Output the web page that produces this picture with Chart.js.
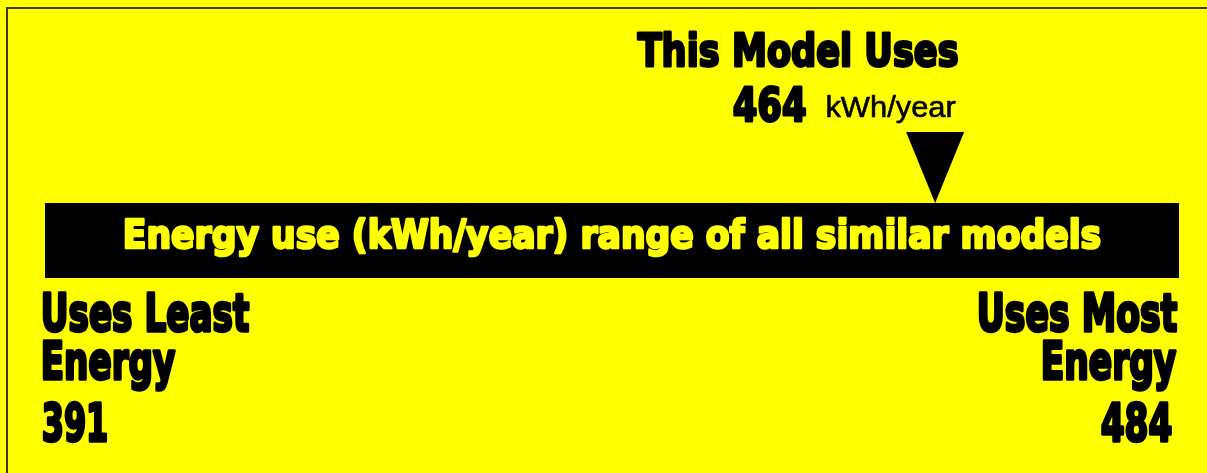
<!DOCTYPE html>
<html>
<head>
<meta charset="utf-8">
<script src="https://cdn.jsdelivr.net/npm/chart.js@4"></script>
<style>
html,body{margin:0;padding:0;background:#ffff00;overflow:hidden}
canvas{display:block}
</style>
</head>
<body>
<canvas id="label" width="1207" height="473"></canvas>
<script>
const categories=["Energy use (kWh/year) range of all similar models"];
const leastEnergy=[391];
const mostEnergy=[484];
const thisModel=[464];
const unitText="kWh/year";
const headline="This Model Uses";
const leastLabel=["Uses Least","Energy"];
const mostLabel=["Uses Most","Energy"];

const heavy='"DejaVu Sans", "Liberation Sans", sans-serif';
const plain='"Liberation Sans", Arial, sans-serif';

// draws text squeezed to a given width (the label font is a condensed black face),
// with an outline in the same colour to make it heavier
function put(c,text,x,y,size,weight,family,width,align,color,thick){
  c.save();
  c.font=weight+' '+size+'px '+family;
  c.textBaseline='alphabetic';
  c.textAlign=align;
  c.fillStyle=color;
  c.strokeStyle=color;
  c.lineJoin='round';
  const w=c.measureText(text).width;
  const sx=(width-thick)/w;
  const shift=align==='left'?thick/2:align==='right'?-thick/2:0;
  c.translate(x+shift,y-thick/2);
  c.scale(sx,1);
  c.fillText(text,0,0);
  if(thick>0){
    c.lineWidth=thick;
    c.strokeText(text,0,0);
  }
  c.restore();
}

const labelPlugin={
  id:'labelText',
  beforeDraw(chart){
    const c=chart.ctx;
    c.save();
    c.fillStyle='#ffff00';
    c.fillRect(0,0,chart.width,chart.height);
    c.strokeStyle='#3d3d00';
    c.lineWidth=2;
    c.beginPath();
    c.moveTo(7,chart.height);
    c.lineTo(7,8);
    c.lineTo(chart.width,8);
    c.stroke();
    c.restore();
  },
  afterDatasetsDraw(chart){
    const c=chart.ctx;
    const a=chart.chartArea;
    const x=chart.scales.x;
    const tip=x.getPixelForValue(thisModel[0]);

    // pointer
    c.save();
    c.fillStyle='#000';
    c.beginPath();
    c.moveTo(tip-29,a.top-71);
    c.lineTo(tip+29,a.top-71);
    c.lineTo(tip,a.top);
    c.closePath();
    c.fill();
    c.restore();

    // headline above the pointer
    put(c,headline,tip+25,67,45,'bold',heavy,324,'right','#000',3);
    put(c,unitText,tip+21,117,30,'normal',plain,131,'right','#000',0.6);
    put(c,String(thisModel[0]),tip-127,122,47,'bold',heavy,77,'right','#000',3);

    // text inside the band
    put(c,categories[0],(a.left+a.right)/2,249,39,'bold',heavy,981,'center','#ffff00',2.6);

    // ends of the range
    const l=a.left-6, r=a.right;
    put(c,leastLabel[0],l,333,51,'bold',heavy,212,'left','#000',3.4);
    put(c,leastLabel[1],l,381,51,'bold',heavy,138,'left','#000',3.4);
    put(c,String(leastEnergy[0]),l+1,443,51,'bold',heavy,70,'left','#000',3.4);
    put(c,mostLabel[0],r,333,51,'bold',heavy,204,'right','#000',3.4);
    put(c,mostLabel[1],r-1,381,51,'bold',heavy,139,'right','#000',3.4);
    put(c,String(mostEnergy[0]),r-5,443,51,'bold',heavy,75,'right','#000',3.4);
  }
};

new Chart(document.getElementById('label'),{
  type:'bar',
  data:{
    labels:categories,
    datasets:[{
      data:categories.map((_,i)=>[leastEnergy[i],mostEnergy[i]]),
      backgroundColor:'#000000',
      borderWidth:0,
      borderSkipped:false,
      barPercentage:1,
      categoryPercentage:1
    }]
  },
  options:{
    indexAxis:'y',
    responsive:false,
    animation:false,
    layout:{padding:{left:45,right:28,top:203,bottom:195}},
    scales:{
      x:{type:'linear',min:leastEnergy[0],max:mostEnergy[0],display:false},
      y:{display:false}
    },
    plugins:{legend:{display:false},tooltip:{enabled:false}}
  },
  plugins:[labelPlugin]
});
</script>
</body>
</html>
